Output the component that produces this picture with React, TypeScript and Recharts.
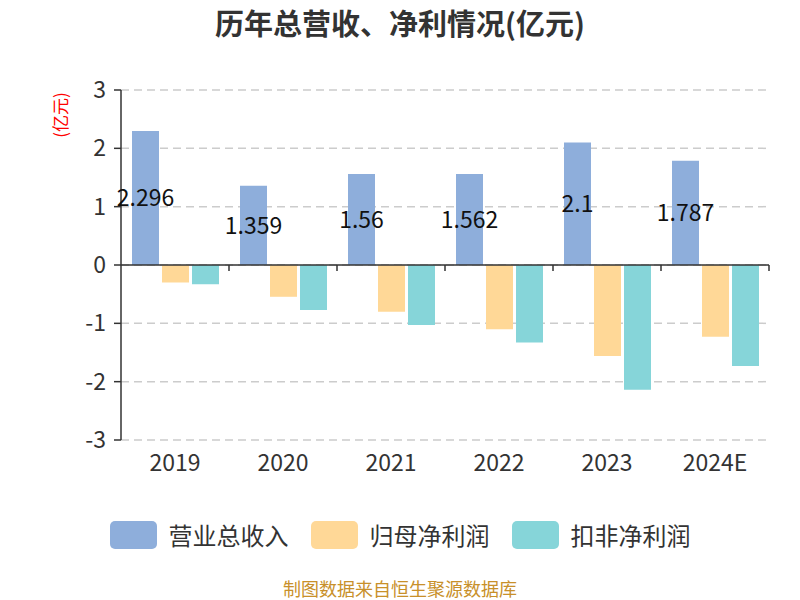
import { BarChart, Bar, XAxis, YAxis, CartesianGrid, ReferenceLine, LabelList } from "recharts";

const FONT = '"Noto Sans CJK SC", "Noto Sans", sans-serif';

const years = ["2019", "2020", "2021", "2022", "2023", "2024E"];
const revenue = [2.296, 1.359, 1.56, 1.562, 2.1, 1.787];
const netProfit = [-0.3, -0.545, -0.8, -1.1, -1.56, -1.23];
const deductedProfit = [-0.33, -0.77, -1.03, -1.33, -2.14, -1.73];
const yTicks = [-3, -2, -1, 0, 1, 2, 3];

const SERIES = [
  { key: "revenue", name: "营业总收入", color: "#8eaedb" },
  { key: "netProfit", name: "归母净利润", color: "#ffd897" },
  { key: "deducted", name: "扣非净利润", color: "#86d5d9" },
];

const data = years.map((y, i) => ({
  year: y,
  revenue: revenue[i],
  netProfit: netProfit[i],
  deducted: deductedProfit[i],
}));

// zero line with boundary ticks hanging below, like the original axis
function ZeroAxis(props: any) {
  const { x1, x2, y1 } = props;
  const n = years.length;
  const step = (x2 - x1) / n;
  const ticks = [];
  for (let i = 1; i <= n; i++) {
    const x = x1 + step * i;
    ticks.push(<line key={i} x1={x} x2={x} y1={y1} y2={y1 + 6} stroke="#333" strokeWidth={1.5} />);
  }
  return (
    <g>
      <line x1={x1} x2={x2} y1={y1} y2={y1} stroke="#333" strokeWidth={1.5} />
      {ticks}
    </g>
  );
}

function ChartLegend() {
  return (
    <div
      style={{
        position: "absolute",
        top: 521,
        left: 0,
        width: 800,
        display: "flex",
        justifyContent: "center",
        alignItems: "center",
        gap: 22,
      }}
    >
      {SERIES.map((s) => (
        <div key={s.key} style={{ display: "flex", alignItems: "center" }}>
          <div style={{ width: 47, height: 28, borderRadius: 5, background: s.color, marginRight: 12 }} />
          <span style={{ fontSize: 24, lineHeight: "28px", color: "#333" }}>{s.name}</span>
        </div>
      ))}
    </div>
  );
}

export default function App() {
  return (
    <div style={{ position: "absolute", left: 0, top: 0, width: 800, height: 600, background: "#fff", fontFamily: FONT }}>
      <div
        style={{
          position: "absolute",
          top: 2,
          width: 800,
          textAlign: "center",
          fontSize: 29,
          lineHeight: "40px",
          fontWeight: "bold",
          color: "#333",
        }}
      >
        历年总营收、净利情况(亿元)
      </div>
      <BarChart
        width={800}
        height={600}
        data={data}
        margin={{ top: 90, right: 31, bottom: 130, left: 61 }}
        barGap={3}
        barCategoryGap={11}
      >
        <CartesianGrid vertical={false} stroke="#ccc" strokeDasharray="8 5" strokeWidth={1.5} />
        <XAxis
          dataKey="year"
          axisLine={false}
          tickLine={false}
          tickSize={6}
          tickMargin={9}
          height={30}
          tick={{ fontSize: 23, fill: "#333", fontFamily: FONT }}
        />
        <YAxis
          width={60}
          domain={[-3, 3]}
          ticks={yTicks}
          interval={0}
          axisLine={{ stroke: "#333", strokeWidth: 1.5 }}
          tickLine={{ stroke: "#333", strokeWidth: 1.5 }}
          tickSize={7}
          tickMargin={8}
          tick={{ fontSize: 23, fill: "#333", fontFamily: FONT }}
          label={{
            content: (p: any) => {
              const vb = p.viewBox || { x: 61, y: 90 };
              const x = vb.x - 2;
              const y = vb.y + 25;
              return (
                <text x={x} y={y} transform={`rotate(-90 ${x} ${y})`} textAnchor="middle" dominantBaseline="central" fill="#ff0000" fontSize={17} fontFamily={FONT}>
                  (亿元)
                </text>
              );
            },
          }}
        />
        <ReferenceLine y={0} shape={(p: any) => <ZeroAxis {...p} />} />
        {SERIES.map((s) => (
          <Bar key={s.key} dataKey={s.key} name={s.name} fill={s.color} isAnimationActive={false}>
            {s.key === "revenue" && (
              <LabelList dataKey="revenue" position="inside" fill="#111" fontSize={23} fontFamily={FONT} />
            )}
          </Bar>
        ))}
      </BarChart>
      <ChartLegend />
      <div
        style={{
          position: "absolute",
          top: 576,
          width: 800,
          textAlign: "center",
          fontSize: 18,
          lineHeight: "24px",
          color: "#c8902a",
        }}
      >
        制图数据来自恒生聚源数据库
      </div>
    </div>
  );
}
